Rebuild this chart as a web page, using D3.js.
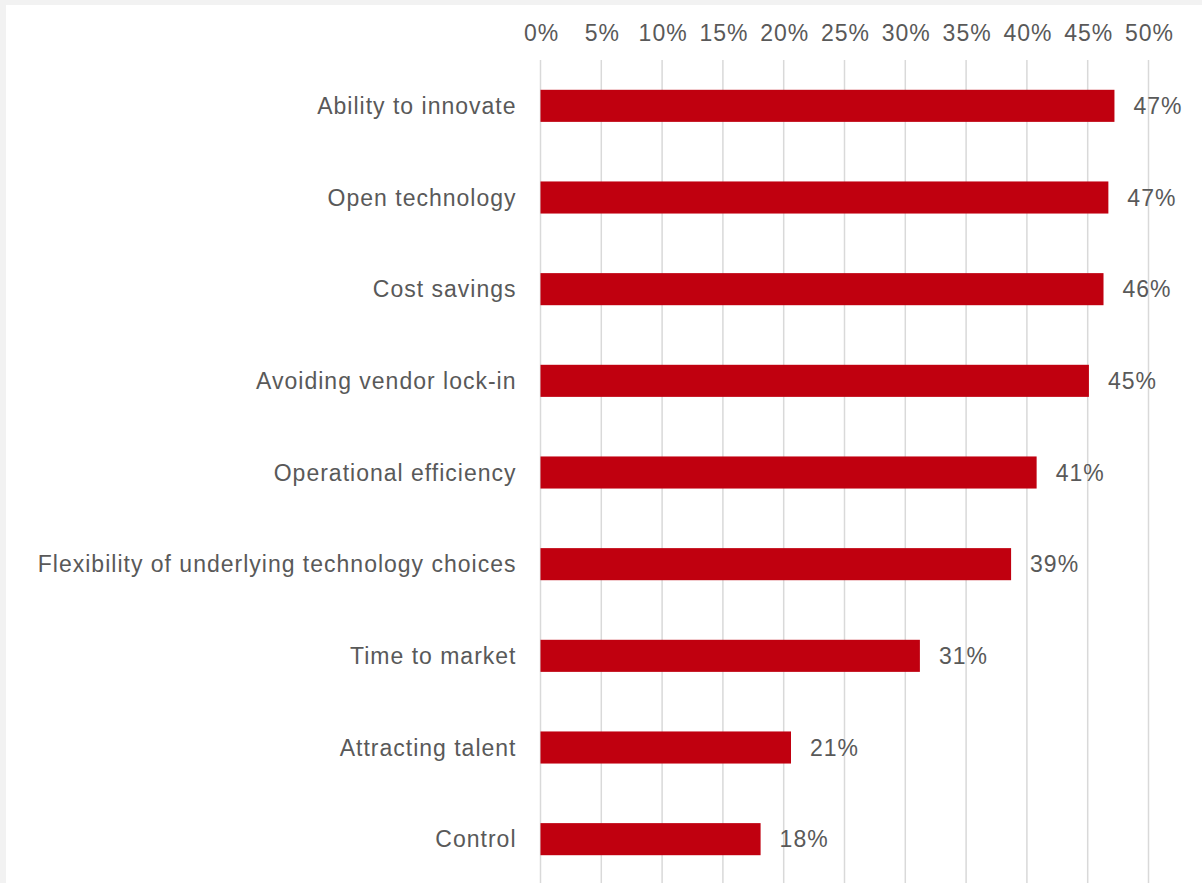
<!DOCTYPE html>
<html>
<head>
<meta charset="utf-8">
<script src="https://cdn.jsdelivr.net/npm/d3@7/dist/d3.min.js"></script>
<style>
  html, body { margin: 0; padding: 0; background: #f2f2f2; }
  svg { display: block; }
</style>
</head>
<body>
<svg id="chart" width="1202" height="883"></svg>
<script>
const categories = [
  "Ability to innovate",
  "Open technology",
  "Cost savings",
  "Avoiding vendor lock-in",
  "Operational efficiency",
  "Flexibility of underlying technology choices",
  "Time to market",
  "Attracting talent",
  "Control"
];
const values = [47.2, 46.7, 46.3, 45.1, 40.8, 38.7, 31.2, 20.6, 18.1];
const tickValues = [0, 5, 10, 15, 20, 25, 30, 35, 40, 45, 50];

const svg = d3.select("#chart");
const W = 1202, H = 883;

// panel background (light gray frame on top and left)
svg.append("rect").attr("x", 6).attr("y", 5).attr("width", W - 6).attr("height", H - 5).attr("fill", "#ffffff");

const x = d3.scaleLinear().domain([0, 50]).range([540.5, 1148.5]);
const y = d3.scaleBand().domain(categories).range([60, 885]).paddingInner(0.65).paddingOuter(0.325);

const font = "'Liberation Sans', Arial, Helvetica, sans-serif";
const textColor = "#595959";
const fs = 23, ls = 1;

// gridlines
svg.append("g").selectAll("line").data(tickValues).join("line")
  .attr("x1", d => x(d)).attr("x2", d => x(d))
  .attr("y1", 60).attr("y2", H)
  .attr("stroke", "#d9d9d9").attr("stroke-width", 1.5);

// top axis tick labels
const axis = d3.axisTop(x).tickValues(tickValues).tickFormat(d => d + "%").tickSize(0).tickPadding(0);
const ag = svg.append("g").attr("transform", "translate(0,41)").call(axis);
ag.select(".domain").remove();
ag.selectAll("text")
  .attr("font-family", font).attr("font-size", fs).attr("letter-spacing", ls).attr("fill", textColor)
  .attr("dx", "0.5").attr("dy", "0");

// bars
svg.append("g").selectAll("rect").data(values).join("rect")
  .attr("x", x(0))
  .attr("y", (d, i) => y(categories[i]))
  .attr("width", d => x(d) - x(0))
  .attr("height", y.bandwidth())
  .attr("fill", "#c0000f");

// category labels
svg.append("g").selectAll("text").data(categories).join("text")
  .attr("x", x(0) - 24)
  .attr("y", d => y(d) + y.bandwidth() / 2)
  .attr("dy", "0.35em")
  .attr("text-anchor", "end")
  .attr("font-family", font).attr("font-size", fs).attr("letter-spacing", ls).attr("fill", textColor)
  .text(d => d);

// value labels
svg.append("g").selectAll("text").data(values).join("text")
  .attr("x", d => x(d) + 19)
  .attr("y", (d, i) => y(categories[i]) + y.bandwidth() / 2)
  .attr("dy", "0.35em")
  .attr("font-family", font).attr("font-size", fs).attr("letter-spacing", ls).attr("fill", textColor)
  .text(d => Math.round(d) + "%");
</script>
</body>
</html>
